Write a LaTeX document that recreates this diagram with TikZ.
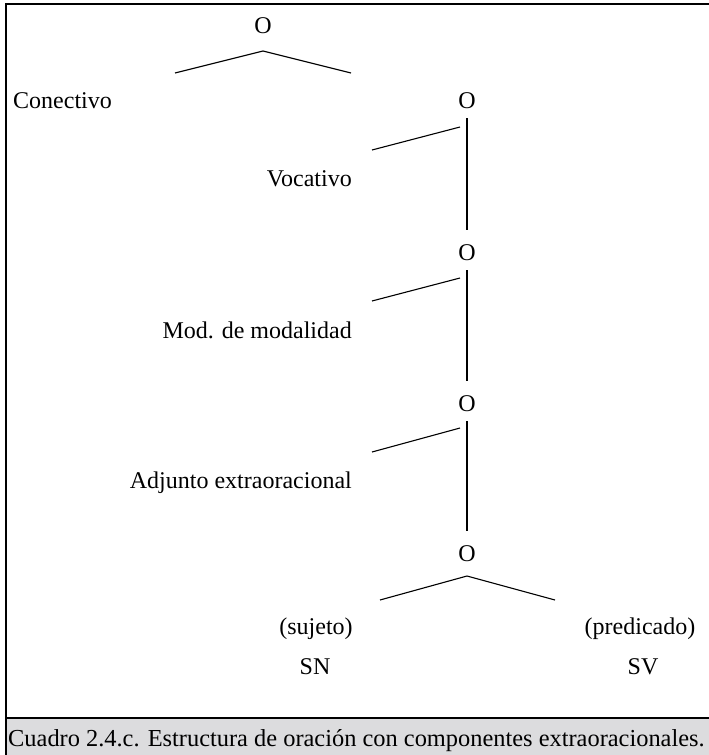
\documentclass[tikz,border=0pt]{standalone}
\usepackage{fontspec}
\setmainfont{Liberation Serif}
\begin{document}
\definecolor{capgray}{RGB}{220,220,222}
\begin{tikzpicture}[x=1pt,y=-1pt,
  lbl/.style={inner sep=0pt,font=\fontsize{24}{28}\selectfont},
  cat/.style={lbl,anchor=base},
  side/.style={lbl,anchor=base east},
  branch/.style={line width=1.1pt,black},
  frameline/.style={line width=2pt,black}]
\useasboundingbox (0,0) rectangle (709,755);

% caption strip and frame
\fill[capgray] (6,718) rectangle (709,755);
\draw[frameline] (6,755) -- (6,4) -- (709,4);
\draw[line width=1.5pt] (6,718) -- (709,718);
\node[lbl,anchor=base west,font=\fontsize{24.4}{28}\selectfont] (cap) at (8,746)
  {Cuadro 2.4.c. Estructura de oración con componentes extraoracionales.};

% root clause and its connective
\node[cat] (o1) at (263,33) {O};
\coordinate (o1apex) at (263,51);
\coordinate (o1l) at (175,73);
\coordinate (o1r) at (351,73);
\draw[branch] (o1l) -- (o1apex) -- (o1r);
\node[lbl,anchor=base west] (conect) at (13,108) {Conectivo};

% vocative level
\node[cat] (o2) at (467,108) {O};
\coordinate (o2top) at (467,118);
\coordinate (o2bot) at (467,230);
\coordinate (o2a) at (460,127);
\coordinate (o2b) at (372,150);
\draw[branch] (o2top) -- (o2bot);
\draw[branch] (o2a) -- (o2b);
\node[side] (voc) at (352,186) {Vocativo};

% modality modifier level
\node[cat] (o3) at (467,260) {O};
\coordinate (o3top) at (467,270);
\coordinate (o3bot) at (467,381);
\coordinate (o3a) at (460,278);
\coordinate (o3b) at (372,301);
\draw[branch] (o3top) -- (o3bot);
\draw[branch] (o3a) -- (o3b);
\node[side] (mod) at (352,338) {Mod. de modalidad};

% extra-clausal adjunct level
\node[cat] (o4) at (467,411) {O};
\coordinate (o4top) at (467,421);
\coordinate (o4bot) at (467,531);
\coordinate (o4a) at (460,428);
\coordinate (o4b) at (372,452);
\draw[branch] (o4top) -- (o4bot);
\draw[branch] (o4a) -- (o4b);
\node[side] (adj) at (352,488) {Adjunto extraoracional};

% core clause: subject and predicate
\node[cat] (o5) at (467,561) {O};
\coordinate (o5apex) at (467,576);
\coordinate (o5l) at (380,600);
\coordinate (o5r) at (555,600);
\draw[branch] (o5l) -- (o5apex) -- (o5r);
\node[cat] (suj) at (316,634) {(sujeto)};
\node[cat] (sn) at (315,674) {SN};
\node[cat] (pred) at (640,634) {(predicado)};
\node[cat] (sv) at (643,674) {SV};
\end{tikzpicture}
\end{document}
